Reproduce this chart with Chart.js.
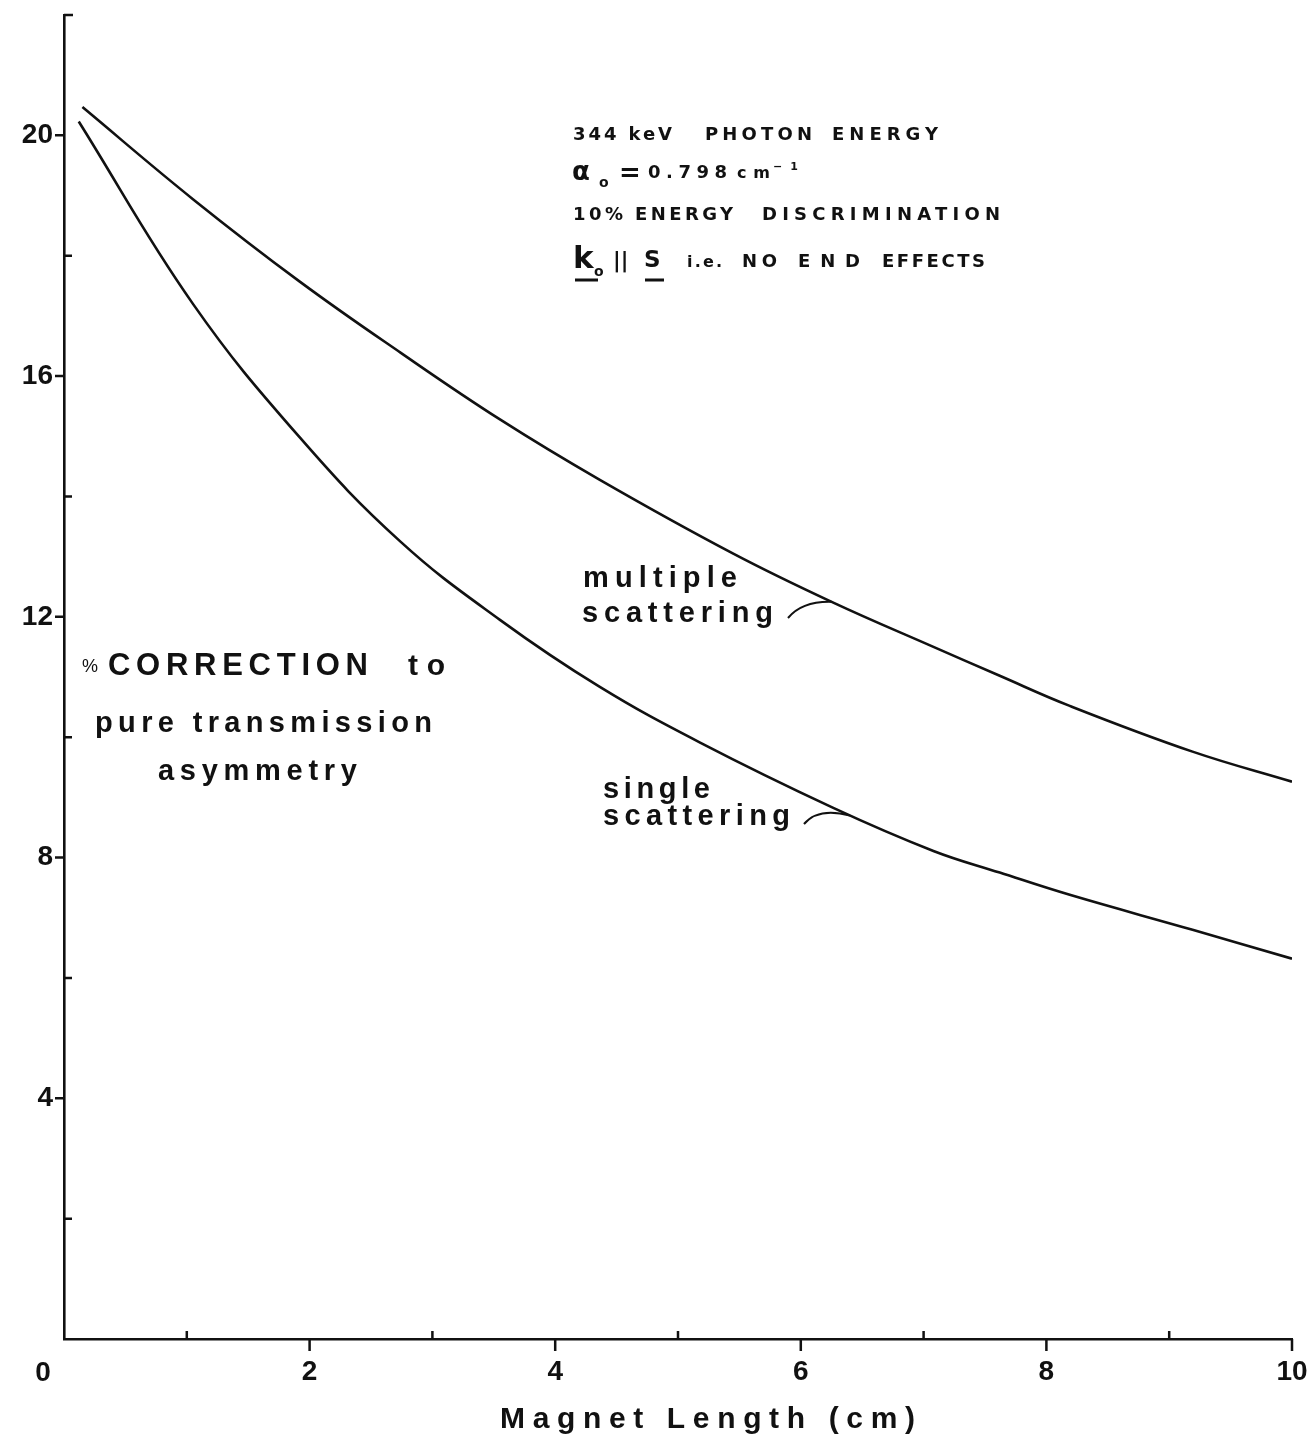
<!DOCTYPE html>
<html>
<head>
<meta charset="utf-8">
<script src="https://cdn.jsdelivr.net/npm/chart.js@4.4.1/dist/chart.umd.min.js"></script>
<style>
html, body { margin: 0; padding: 0; background: #fff; }
#wrap { width: 1310px; height: 1438px; }
</style>
</head>
<body>
<div id="wrap"><canvas id="grafico" width="1310" height="1438"></canvas></div>
<script>
// valores
const multX = [0.15, 1.05, 1.92, 2.74, 3.55, 4.36, 5.45, 6.26, 7.08, 7.62, 8.19, 9.19, 10];
const multY = [20.47, 18.94, 17.57, 16.39, 15.28, 14.28, 13.05, 12.24, 11.5, 11.02, 10.52, 9.76, 9.26];
const singX = [0.12, 1.05, 1.92, 2.74, 3.55, 4.36, 5.18, 6.26, 7.08, 7.62, 8.19, 9.19, 10];
const singY = [20.23, 17.2, 14.98, 13.25, 11.95, 10.84, 9.91, 8.83, 8.11, 7.75, 7.38, 6.8, 6.32];

const xTickLabels = [2, 4, 6, 8, 10];
const xMinor = [1, 3, 5, 7, 9];
const yTickLabels = [4, 8, 12, 16, 20];
const yMinor = [2, 6, 10, 14, 18];

const INK = '#111';
const tickFont = { family: "'Liberation Sans', Arial, sans-serif", size: 28, weight: 'bold' };

function pontos(xs, ys) {
    return xs.map((x, i) => ({ x: x, y: ys[i] }));
}

function espacado(ctx, text, x1, x2, y, font) {
    ctx.font = font;
    ctx.letterSpacing = '0px';
    const w = ctx.measureText(text).width;
    const n = [...text].length;
    const ls = n > 1 ? (x2 - x1 - w) / (n - 1) : 0;
    ctx.letterSpacing = ls + 'px';
    ctx.textAlign = 'left';
    ctx.textBaseline = 'alphabetic';
    ctx.fillText(text, x1, y);
    ctx.letterSpacing = '0px';
}

function semPadding(s) {
    s.paddingTop = 0;
    s.paddingBottom = 0;
    s.paddingLeft = 0;
    s.paddingRight = 0;
}

const extras = {
    id: 'extras',
    afterDraw(chart) {
        const ctx = chart.ctx;
        const xs = chart.scales.x;
        const ys = chart.scales.y;
        const y0 = ys.getPixelForValue(0);
        const x0 = xs.getPixelForValue(0);
        ctx.save();
        ctx.strokeStyle = INK;
        ctx.fillStyle = INK;
        ctx.lineWidth = 2.5;
        ctx.lineCap = 'butt';

        // ticks do eixo x
        ctx.beginPath();
        xTickLabels.forEach(v => {
            const p = xs.getPixelForValue(v);
            ctx.moveTo(p, y0); ctx.lineTo(p, y0 + 12);
        });
        xMinor.forEach(v => {
            const p = xs.getPixelForValue(v);
            ctx.moveTo(p, y0); ctx.lineTo(p, y0 - 8);
        });
        // ticks do eixo y
        yTickLabels.forEach(v => {
            const p = ys.getPixelForValue(v);
            ctx.moveTo(x0, p); ctx.lineTo(x0 - 9, p);
        });
        yMinor.forEach(v => {
            const p = ys.getPixelForValue(v);
            ctx.moveTo(x0, p); ctx.lineTo(x0 + 8, p);
        });
        const yTop = ys.getPixelForValue(22);
        ctx.moveTo(x0, yTop); ctx.lineTo(x0 + 9, yTop);
        ctx.stroke();

        // origem
        ctx.font = "bold 28px 'Liberation Sans', Arial, sans-serif";
        ctx.textAlign = 'center';
        ctx.textBaseline = 'alphabetic';
        ctx.fillText('0', x0 - 21, 1381);

        // título do eixo x
        espacado(ctx, 'Magnet Length (cm)', 500, 915, 1428, "bold 30px 'Liberation Sans', Arial, sans-serif");

        // título do eixo y
        espacado(ctx, '%', 82, 96, 672, "18px 'Liberation Sans', Arial, sans-serif");
        espacado(ctx, 'CORRECTION', 108, 368, 675, "bold 31px 'Liberation Sans', Arial, sans-serif");
        espacado(ctx, 'to', 408, 445, 675, "bold 30px 'Liberation Sans', Arial, sans-serif");
        espacado(ctx, 'pure transmission', 95, 432, 732, "bold 29px 'Liberation Sans', Arial, sans-serif");
        espacado(ctx, 'asymmetry', 158, 357, 780, "bold 29px 'Liberation Sans', Arial, sans-serif");

        // rótulos das curvas
        const lab = "bold 29px 'Liberation Sans', Arial, sans-serif";
        espacado(ctx, 'multiple', 583, 737, 587, lab);
        espacado(ctx, 'scattering', 582, 773, 622, lab);
        espacado(ctx, 'single', 603, 710, 798, lab);
        espacado(ctx, 'scattering', 603, 790, 825, lab);

        // ganchos
        ctx.lineWidth = 2;
        ctx.beginPath();
        ctx.moveTo(788, 618);
        ctx.quadraticCurveTo(802, 601, xs.getPixelForValue(6.25), ys.getPixelForValue(12.25));
        ctx.moveTo(804, 824);
        ctx.quadraticCurveTo(818, 807, xs.getPixelForValue(6.4), ys.getPixelForValue(8.7));
        ctx.stroke();

        // bloco de condições
        const f1 = "bold 18px 'DejaVu Sans', sans-serif";
        espacado(ctx, '344 keV', 573, 672, 140, f1);
        espacado(ctx, 'PHOTON', 705, 812, 140, f1);
        espacado(ctx, 'ENERGY', 832, 938, 140, f1);

        ctx.textAlign = 'left';
        ctx.font = "bold 26px 'DejaVu Sans', sans-serif";
        ctx.fillText('α', 572, 180);
        ctx.font = "bold 14px 'DejaVu Sans', sans-serif";
        ctx.fillText('o', 599, 187);
        ctx.font = "bold 26px 'DejaVu Sans', sans-serif";
        ctx.fillText('=', 619, 181);
        espacado(ctx, '0.798', 648, 727, 178, "bold 18px 'DejaVu Sans', sans-serif");
        espacado(ctx, 'cm', 737, 770, 178, "bold 16px 'DejaVu Sans', sans-serif");
        espacado(ctx, '−1', 773, 798, 170, "bold 11px 'DejaVu Sans', sans-serif");

        espacado(ctx, '10%', 573, 623, 220, f1);
        espacado(ctx, 'ENERGY', 635, 733, 220, f1);
        espacado(ctx, 'DISCRIMINATION', 762, 1000, 220, f1);

        ctx.textAlign = 'left';
        ctx.font = "bold 31px 'DejaVu Sans', sans-serif";
        ctx.fillText('k', 573, 268);
        ctx.font = "bold 14px 'DejaVu Sans', sans-serif";
        ctx.fillText('o', 594, 276);
        ctx.font = "bold 21px 'DejaVu Sans', sans-serif";
        ctx.fillText('||', 613, 267);
        ctx.font = "bold 23px 'DejaVu Sans', sans-serif";
        ctx.fillText('S', 644, 267);
        ctx.lineWidth = 3;
        ctx.beginPath();
        ctx.moveTo(575, 280); ctx.lineTo(598, 280);
        ctx.moveTo(645, 280); ctx.lineTo(664, 280);
        ctx.stroke();
        espacado(ctx, 'i.e.', 687, 722, 267, "bold 16px 'DejaVu Sans', sans-serif");
        espacado(ctx, 'NO', 742, 777, 267, f1);
        espacado(ctx, 'END', 798, 860, 267, f1);
        espacado(ctx, 'EFFECTS', 882, 985, 267, f1);

        ctx.restore();
    }
};

const ctx = document.getElementById('grafico').getContext('2d');
new Chart(ctx, {
    type: 'scatter',
    data: {
        datasets: [{
            label: 'multiple scattering',
            data: pontos(multX, multY),
            showLine: true,
            borderColor: INK,
            borderWidth: 2.6,
            pointRadius: 0,
            tension: 0.4
        }, {
            label: 'single scattering',
            data: pontos(singX, singY),
            showLine: true,
            borderColor: INK,
            borderWidth: 2.6,
            pointRadius: 0,
            tension: 0.4
        }]
    },
    options: {
        responsive: false,
        animation: false,
        devicePixelRatio: 1,
        layout: { padding: { top: 15, right: 18, left: 0, bottom: 0 } },
        plugins: { legend: { display: false }, tooltip: { enabled: false } },
        scales: {
            x: {
                type: 'linear',
                min: 0,
                max: 10,
                afterBuildTicks: s => { s.ticks = xTickLabels.map(v => ({ value: v })); },
                afterFit: s => { s.height = 99; semPadding(s); },
                ticks: { font: tickFont, color: INK, padding: 16, maxRotation: 0, autoSkip: false },
                grid: { display: false, drawTicks: false },
                border: { display: true, color: INK, width: 2.6 }
            },
            y: {
                type: 'linear',
                min: 0,
                max: 22,
                afterBuildTicks: s => { s.ticks = yTickLabels.map(v => ({ value: v })); },
                afterFit: s => { s.width = 64; semPadding(s); },
                ticks: { font: tickFont, color: INK, padding: 11, autoSkip: false },
                grid: { display: false, drawTicks: false },
                border: { display: true, color: INK, width: 2.6 }
            }
        }
    },
    plugins: [extras]
});
</script>
</body>
</html>
